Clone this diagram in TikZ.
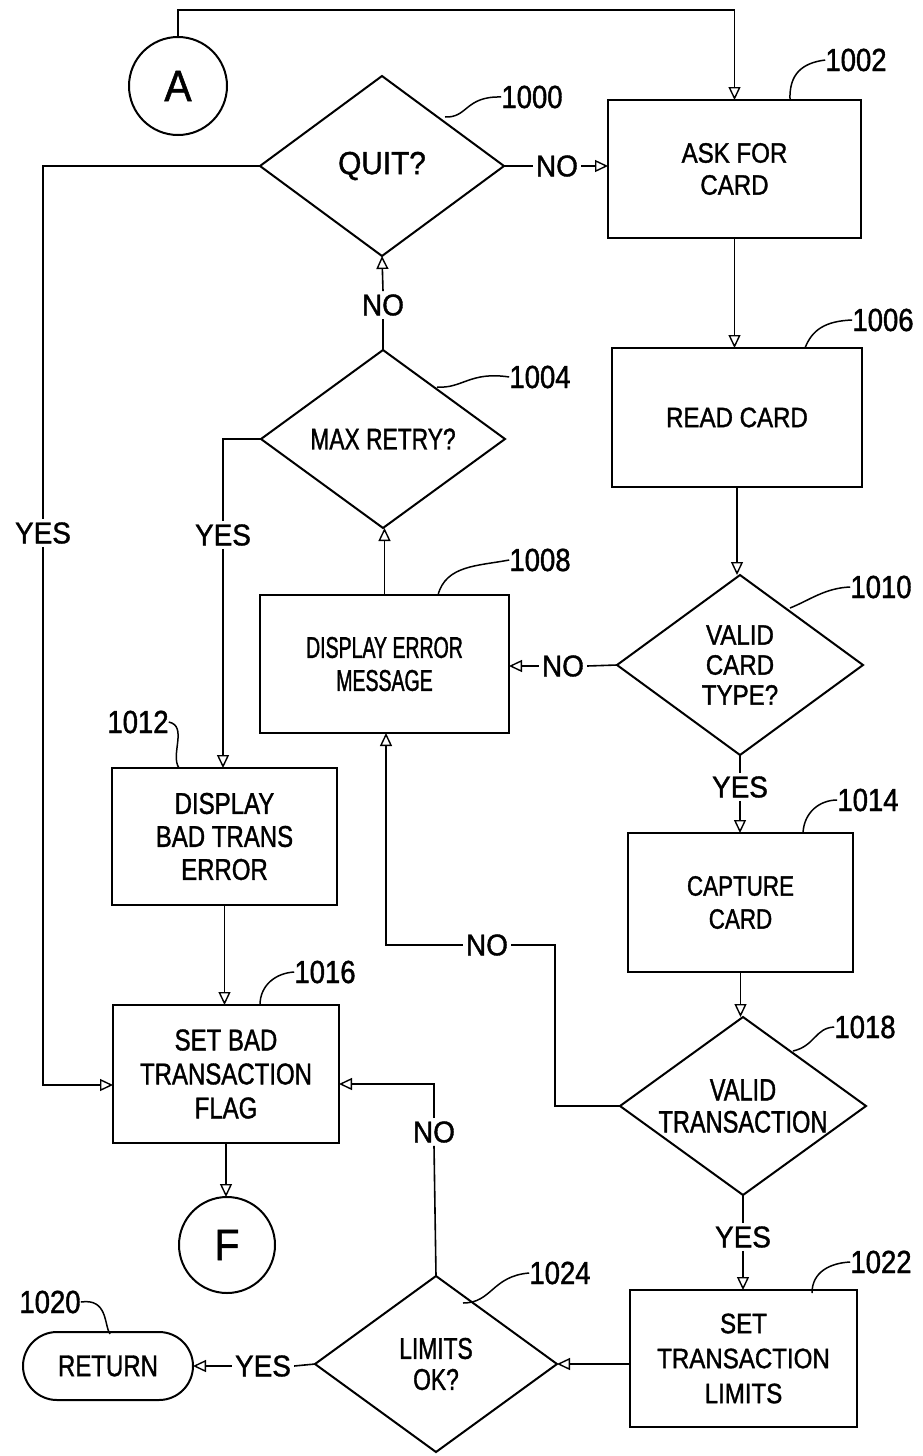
\documentclass[tikz,border=0pt]{standalone}
\usepackage{fontspec}
\setmainfont{Liberation Sans}
\newfontfamily\fsA[FakeStretch=0.65, FakeBold=1.2]{Liberation Sans}
\newfontfamily\fsB[FakeStretch=0.76, FakeBold=1.2]{Liberation Sans}
\newfontfamily\fsC[FakeStretch=0.80, FakeBold=1.2]{Liberation Sans}
\newfontfamily\fsD[FakeStretch=0.86, FakeBold=1.2]{Liberation Sans}
\newfontfamily\fsE[FakeStretch=0.93, FakeBold=1.2]{Liberation Sans}
\usetikzlibrary{arrows.meta,shapes.geometric}
\tikzset{
  box/.style={draw, line width=2pt, rectangle, inner sep=0pt, outer sep=0pt, align=center},
  dec/.style={draw, line width=2pt, diamond, inner sep=0pt, outer sep=0pt},
  conn/.style={draw, line width=2pt, circle, inner sep=0pt, outer sep=0pt, font=\fsE\fontsize{44}{44}\selectfont},
  term/.style={draw, line width=2pt, rectangle, rounded corners=34pt, inner sep=0pt, outer sep=0pt, font=\fsC\fontsize{30}{30}\selectfont},
  lab/.style={inner sep=3pt, font=\fsE\fontsize{30}{30}\selectfont},
  num/.style={inner sep=0pt, font=\fsD\fontsize{32}{32}\selectfont},
  cline/.style={line width=1.6pt},
  arr/.style={line width=1.6pt, -{Triangle[open, length=13pt, width=12pt, line width=1.4pt]}},
  lead/.style={line width=1.5pt},
}
\begin{document}
\begin{tikzpicture}[x=1pt, y=-1pt]
\useasboundingbox (0,0) rectangle (922,1456);

% ---------- nodes ----------
\node[conn, minimum size=98pt] (A) at (178,86) {A};
\node[conn, minimum size=96pt] (F) at (227,1245) {F};

\node[dec, minimum width=244pt, minimum height=180pt,
  label={[font=\fsE\fontsize{32}{32}\selectfont]center:QUIT?}] (quit) at (382,166) {};
\node[dec, minimum width=244pt, minimum height=178pt,
  label={[font=\fsB\fontsize{30}{30}\selectfont]center:MAX RETRY?}] (mr) at (383,439) {};
\node[dec, minimum width=246pt, minimum height=180pt,
  label={[align=center, font=\fsD\fontsize{28}{30}\selectfont]center:{VALID\\CARD\\TYPE?}}] (vc) at (740,665) {};
\node[dec, minimum width=246pt, minimum height=178pt,
  label={[align=center, font=\fsB\fontsize{31}{32}\selectfont]center:{VALID\\TRANSACTION}}] (vt) at (743,1106) {};
\node[dec, minimum width=242pt, minimum height=176pt,
  label={[align=center, font=\fsB\fontsize{30}{31}\selectfont]center:{LIMITS\\OK?}}] (lim) at (436,1364) {};

\node[box, minimum width=253pt, minimum height=138pt, font=\fsD\fontsize{28}{32}\selectfont] (ask) at (734.5,169) {ASK FOR\\CARD};
\node[box, minimum width=250pt, minimum height=139pt, font=\fsD\fontsize{28}{32}\selectfont] (read) at (737,417.5) {READ CARD};
\node[box, minimum width=249pt, minimum height=138pt, font=\fsA\fontsize{30}{33}\selectfont] (err) at (384.5,664) {DISPLAY ERROR\\MESSAGE};
\node[box, minimum width=225pt, minimum height=139pt, font=\fsC\fontsize{28}{33}\selectfont] (cap) at (740.5,902.5) {CAPTURE\\CARD};
\node[box, minimum width=225pt, minimum height=137pt, font=\fsC\fontsize{30}{33}\selectfont] (dbt) at (224.5,836.5) {DISPLAY\\BAD TRANS\\ERROR};
\node[box, minimum width=226pt, minimum height=138pt, font=\fsC\fontsize{30}{34}\selectfont] (sb) at (226,1074) {SET BAD\\TRANSACTION\\FLAG};
\node[box, minimum width=227pt, minimum height=137pt, font=\fsD\fontsize{28}{35}\selectfont] (stl) at (743.5,1358.5) {SET\\TRANSACTION\\LIMITS};
\node[term, minimum width=170pt, minimum height=68pt] (ret) at (108,1366) {RETURN};

% ---------- branch labels ----------
\node[lab] (no1) at (557,166) {NO};
\node[lab] (no2) at (383,305) {NO};
\node[lab] (yes1) at (43,533) {YES};
\node[lab] (yes2) at (223,535) {YES};
\node[lab] (no3) at (563,666) {NO};
\node[lab] (yes3) at (740,787) {YES};
\node[lab] (no5) at (487,945) {NO};
\node[lab] (no4) at (434,1132) {NO};
\node[lab] (yes4) at (743,1237) {YES};
\node[lab] (yes5) at (263,1366) {YES};

\coordinate (topA) at (178,10);
\coordinate (rt) at (555,945);

% ---------- connectors ----------
\draw[arr] (A.north) -- (topA) -| (ask.north);
\draw[cline] (quit.east) -- (no1.west);
\draw[arr] (no1.east) -- (no1.east -| ask.west);
\draw[arr] (ask.south) -- (ask.south |- read.north);
\draw[arr] (read.south) -- (read.south |- vc.north);
\draw[cline] (vc.west) -- (no3.east);
\draw[arr] (no3.west) -- (no3.west -| err.east);
\draw[cline] (vc.south) -- (yes3.north);
\draw[arr] (yes3.south) -- (yes3.south |- cap.north);
\draw[arr] (cap.south) -- (cap.south |- vt.north);
\draw[cline] (vt.south) -- (yes4.north);
\draw[arr] (yes4.south) -- (yes4.south |- stl.north);
\draw[arr] (stl.west |- lim.east) -- (lim.east);
\draw[cline] (lim.west) -- (yes5.east);
\draw[arr] (yes5.west) -- (yes5.west -| ret.east);
\draw[cline] (lim.north) -- (no4.south);
\draw[arr] (no4.north) |- ([yshift=-10pt]sb.east);
\draw[cline] (vt.west) -| (rt) -- (no5.east);
\draw[arr] (no5.west) -| ([xshift=1.5pt]err.south);
\draw[arr] (err.north) -- (err.north |- mr.south);
\draw[cline] (mr.north) -- (no2.south);
\draw[arr] (no2.north) -- (quit.south);
\draw[cline] (mr.west) -| (yes2.north);
\draw[arr] (yes2.south) -- (yes2.south |- dbt.north);
\draw[cline] (quit.west) -| (yes1.north);
\draw[arr] (yes1.south) |- ([yshift=-11pt]sb.west);
\draw[arr] (dbt.south) -- (dbt.south |- sb.north);
\draw[arr] (sb.south) -- (sb.south |- F.north);

% ---------- reference numerals ----------
\node[num] (n1000) at (532,97) {1000};
\draw[lead] (445,117) .. controls (468,118) and (465,96) .. (n1000.west);
\node[num] (n1002) at (856,60) {1002};
\draw[lead] (790,100) .. controls (789,74) and (802,63) .. (n1002.west);
\node[num] (n1004) at (540,377) {1004};
\draw[lead] (437,387) .. controls (462,389) and (470,371) .. (n1004.west);
\node[num] (n1006) at (883,320) {1006};
\draw[lead] (805,348) .. controls (812,330) and (825,321) .. (n1006.west);
\node[num] (n1008) at (540,560) {1008};
\draw[lead] (438,595) .. controls (446,565) and (478,566) .. (n1008.west);
\node[num] (n1010) at (881,587) {1010};
\draw[lead] (790,608) .. controls (810,600) and (825,588) .. (n1010.west);
\node[num] (n1012) at (138,722) {1012};
\draw[lead] (n1012.east) .. controls (188,726) and (170,755) .. (179,768);
\node[num] (n1014) at (868,800) {1014};
\draw[lead] (803,833) .. controls (804,812) and (820,800) .. (n1014.west);
\node[num] (n1016) at (325,972) {1016};
\draw[lead] (260,1005) .. controls (260,985) and (276,973) .. (n1016.west);
\node[num] (n1018) at (865,1027) {1018};
\draw[lead] (793,1051) .. controls (815,1046) and (815,1028) .. (n1018.west);
\node[num] (n1020) at (50,1302) {1020};
\draw[lead] (n1020.east) .. controls (108,1298) and (104,1325) .. (110,1334);
\node[num] (n1022) at (881,1262) {1022};
\draw[lead] (812,1293) .. controls (812,1272) and (830,1263) .. (n1022.west);
\node[num] (n1024) at (560,1273) {1024};
\draw[lead] (463,1303) .. controls (492,1303) and (492,1276) .. (n1024.west);
\end{tikzpicture}
\end{document}
